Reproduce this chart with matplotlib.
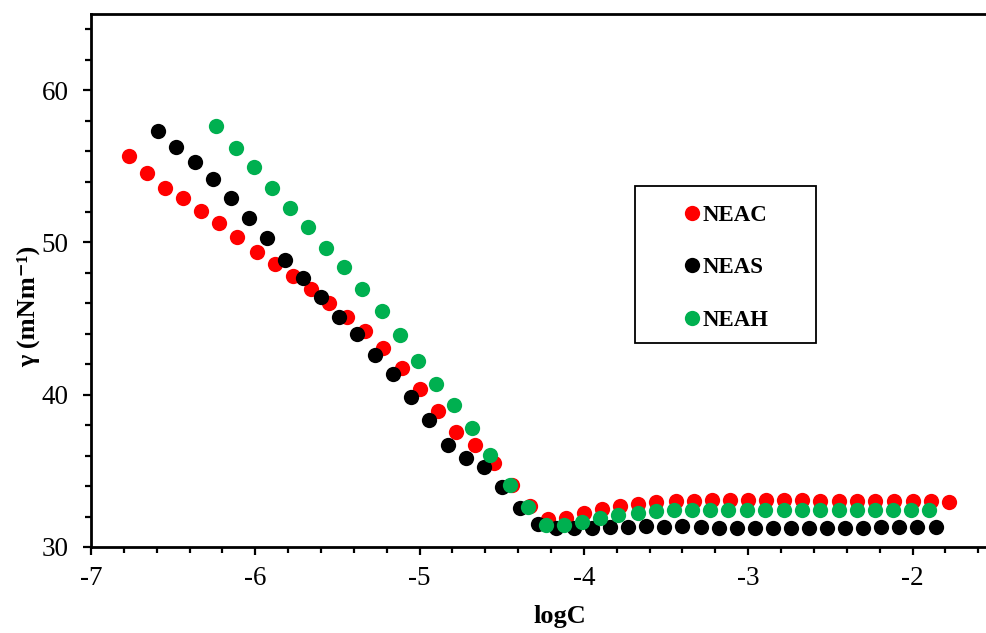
import matplotlib
matplotlib.use("Agg")
import matplotlib.pyplot as plt
from matplotlib.ticker import MultipleLocator
from matplotlib.patches import Rectangle

plt.rcParams['font.family'] = ['Liberation Serif', 'DejaVu Serif']
plt.rcParams['axes.unicode_minus'] = False

# Surface tension versus log concentration
neac_logc = [-6.77, -6.66, -6.55, -6.44, -6.33, -6.22, -6.11, -5.99, -5.88, -5.77,
             -5.66, -5.55, -5.44, -5.33, -5.22, -5.11, -5.00, -4.89, -4.78, -4.66,
             -4.55, -4.44, -4.33, -4.22, -4.11, -4.00, -3.89, -3.78, -3.67, -3.56,
             -3.44, -3.33, -3.22, -3.11, -3.00, -2.89, -2.78, -2.67, -2.56, -2.45,
             -2.34, -2.23, -2.11, -2.00, -1.89, -1.78]
neac_gamma = [55.67, 54.58, 53.59, 52.94, 52.08, 51.25, 50.37, 49.35, 48.58, 47.81,
              46.96, 46.00, 45.12, 44.16, 43.05, 41.77, 40.35, 38.93, 37.57, 36.68,
              35.54, 34.05, 32.71, 31.82, 31.88, 32.23, 32.48, 32.71, 32.82, 32.97,
              33.04, 33.05, 33.06, 33.06, 33.07, 33.07, 33.06, 33.06, 33.05, 33.05,
              33.05, 33.04, 33.03, 33.02, 33.02, 32.97]

neas_logc = [-6.59, -6.48, -6.37, -6.26, -6.15, -6.04, -5.93, -5.82, -5.71, -5.60,
             -5.49, -5.38, -5.27, -5.16, -5.05, -4.94, -4.83, -4.72, -4.61, -4.50,
             -4.39, -4.28, -4.17, -4.06, -3.95, -3.84, -3.73, -3.62, -3.51, -3.40,
             -3.29, -3.18, -3.07, -2.96, -2.85, -2.74, -2.63, -2.52, -2.41, -2.30,
             -2.19, -2.08, -1.97, -1.86]
neas_gamma = [57.31, 56.26, 55.28, 54.16, 52.92, 51.60, 50.27, 48.86, 47.66, 46.40,
              45.12, 43.99, 42.63, 41.33, 39.87, 38.32, 36.70, 35.86, 35.27, 33.92,
              32.58, 31.51, 31.25, 31.25, 31.27, 31.30, 31.33, 31.35, 31.33, 31.35,
              31.30, 31.28, 31.26, 31.28, 31.25, 31.24, 31.22, 31.22, 31.25, 31.28,
              31.30, 31.30, 31.32, 31.30]

neah_logc = [-6.24, -6.12, -6.01, -5.90, -5.79, -5.68, -5.57, -5.46, -5.35, -5.23,
             -5.12, -5.01, -4.90, -4.79, -4.68, -4.57, -4.45, -4.34, -4.23, -4.12,
             -4.01, -3.90, -3.79, -3.67, -3.56, -3.45, -3.34, -3.23, -3.12, -3.01,
             -2.90, -2.78, -2.67, -2.56, -2.45, -2.34, -2.23, -2.12, -2.01, -1.90]
neah_gamma = [57.66, 56.22, 54.97, 53.55, 52.24, 50.99, 49.61, 48.37, 46.92, 45.52,
              43.92, 42.21, 40.70, 39.32, 37.83, 36.04, 34.07, 32.61, 31.44, 31.44,
              31.66, 31.92, 32.10, 32.21, 32.36, 32.43, 32.42, 32.42, 32.42, 32.42,
              32.42, 32.42, 32.42, 32.42, 32.41, 32.41, 32.41, 32.41, 32.41, 32.41]

series_names = ['NEAC', 'NEAS', 'NEAH']
series_colors = ['#ff0000', '#000000', '#00b050']

fig = plt.figure(figsize=(9.86, 6.33), dpi=100)
ax = fig.add_axes([91 / 986, 86 / 633, 895 / 986, 533 / 633])

ms = 11
handles = []
for xs, ys, name, col, z in zip([neac_logc, neas_logc, neah_logc],
                                [neac_gamma, neas_gamma, neah_gamma],
                                series_names, series_colors, [3, 4, 5]):
    h, = ax.plot(xs, ys, linestyle='none', marker='o', markersize=ms,
                 markerfacecolor=col, markeredgecolor=col, markeredgewidth=0,
                 label=name, zorder=z, clip_on=False)
    handles.append(h)

ax.set_xlim(-7, -7 + 895 / 164.3)
ax.set_ylim(30, 65)

ax.xaxis.set_major_locator(MultipleLocator(1))
ax.xaxis.set_minor_locator(MultipleLocator(0.2))
ax.yaxis.set_major_locator(MultipleLocator(10))
ax.yaxis.set_minor_locator(MultipleLocator(2))

ax.spines['right'].set_visible(False)
for s in ['left', 'bottom', 'top']:
    ax.spines[s].set_linewidth(2.0)

ax.tick_params(axis='both', which='major', direction='out', length=6, width=1.6,
               labelsize=19.5, color='black')
ax.tick_params(axis='both', which='minor', direction='out', length=4.5, width=1.6)
ax.tick_params(axis='x', which='major', pad=8)
ax.tick_params(axis='y', which='major', pad=10)
ax.tick_params(top=False, right=False, which='both')

ax.set_xlabel('logC', fontsize=19, fontweight='bold')
ax.xaxis.set_label_coords(0.524, -0.108)
ax.set_ylabel('γ (mNm⁻¹)', fontsize=19, fontweight='bold',
              family=['Liberation Serif', 'DejaVu Serif'])
ax.yaxis.set_label_coords(-0.057, 0.452)

# Legend box
box_x0 = (635 - 91) / 895
box_y0 = (547 - 343) / 533
box_w = (816 - 635) / 895
box_h = (343 - 186) / 533
ax.add_patch(Rectangle((box_x0, box_y0), box_w, box_h, transform=ax.transAxes,
                       facecolor='white', edgecolor='black', linewidth=1.3,
                       zorder=6))
leg = ax.legend(handles=handles, loc='center',
                bbox_to_anchor=(box_x0 + box_w / 2 + 0.001, box_y0 + box_h / 2 - 0.006),
                frameon=False, handlelength=0.7, handletextpad=0.1,
                labelspacing=1.38, markerscale=1.0,
                prop={'family': 'Liberation Serif', 'weight': 'bold', 'size': 16.5})
leg.set_zorder(7)

fig.savefig('out.png', dpi=100)
